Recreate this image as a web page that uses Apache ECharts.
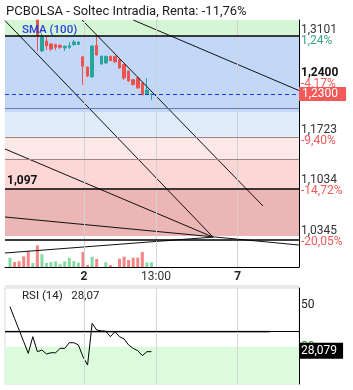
<!DOCTYPE html>
<html><head><meta charset="utf-8">
<script src="https://cdn.jsdelivr.net/npm/echarts@6/dist/echarts.min.js"></script>
<style>html,body{margin:0;padding:0;background:#fff}#c{width:353px;height:390px}</style>
</head><body><div id="c"></div>
<script>
// ---------- data ----------
const barIdx = [0,1,2,3,4,5,6,7,8,9,10,11,12,13,14,15,16,17,18,19,20,21,22,23,24,25,26,27,28,29,30,31];
// first six candles of day 1 lie above the visible price range (not readable)
const opens  = [null,null,null,null,null,null,1.3321,1.2895,1.3032,1.2991,1.2981,1.2973,1.2936,1.2945,1.2981,1.2985,
                1.2812,1.2673,1.2536,1.2970,1.2715,1.2729,1.2821,1.2821,1.2774,1.2706,1.2619,1.2499,1.2522,1.2453,1.2302,1.2295];
const closes = [null,null,null,null,null,null,1.3115,1.3088,1.2963,1.2922,1.2945,1.2945,1.2959,1.2967,1.3018,1.3018,
                1.2688,1.2549,1.2963,1.2839,1.2821,1.2821,1.2761,1.2743,1.2660,1.2522,1.2481,1.2430,1.2385,1.2292,1.2357,1.2300];
const lows   = [null,null,null,null,null,null,1.2895,1.2882,1.2908,1.2895,1.2908,1.2922,1.2895,1.2922,1.2967,1.2975,
                1.2426,1.2535,1.2530,1.2832,1.2705,1.2720,1.2755,1.2735,1.2650,1.2495,1.2470,1.2420,1.2371,1.2285,1.2288,1.2220];
const highs  = [null,null,null,null,null,null,1.3321,1.3143,1.3101,1.3005,1.2995,1.2985,1.2967,1.3018,1.3046,1.3025,
                1.2825,1.2680,1.2970,1.3101,1.2830,1.2828,1.2826,1.2826,1.2780,1.2712,1.2625,1.2505,1.2540,1.2460,1.2522,1.2310];
const volume = [18.6,10,11.4,21.4,31.4,8,43.4,25.4,8,10,11.4,5.4,11.4,18.6,12,8.6,
                30,4,20.6,16,0,9.4,4,0,16.6,20.6,14,18.6,18.6,30,9.4,9.4];
const volUp  = [1,0,0,0,0,1,0,1,1,1,1,1,1,1,1,1, 0,0,1,0,1,1,0,0,0,0,0,0,0,0,1,1];
const rsi    = [49.2,43.5,38.0,32.4,26.8,34.8,27.6,28.4,26.5,27.1,27.1,29.2,29.2,31.9,31.9,30.8,
                25.2,21.2,41.2,38.0,37.6,37.4,34.8,37.2,34.8,33.7,30.8,29.2,28.1,25.7,27.6,27.6];

const tickPos   = [16.2, 32, 49.9];
const tickText  = ['2', '13:00', '7'];
const tickBold  = [true, false, true];

const levelValues = [1.3101, 1.24, 1.1723, 1.1034, 1.0345];
const levelText   = ['1,3101', '1,2400', '1,1723', '1,1034', '1,0345'];
const levelPct    = ['1,24%', '-4,17%', '-9,40%', '-14,72%', '-20,05%'];

const bandEdges = [1.3321, 1.3101, 1.2054, 1.1723, 1.1392, 1.0986, 1.0345];
const supportLevel = 1.0986, supportText = '1,097';
const lastPrice = 1.23, lastText = '1,2300';

const trendLines = [
  [[-1.1, 1.3313], [44.5, 1.033]],
  [[-1.1, 1.1544], [44.5, 1.033]],
  [[-1.1, 1.0607], [63.3, 1.0221]],
  [[-1.1, 1.0111], [44.5, 1.033]],
  [[15.8, 1.3321], [55.45, 1.0758]],
  [[27.0, 1.3321], [63.3, 1.2350]]
];
const rsiLevel = 37.2, rsiLevelEnd = 57;
const rsiOversold = 30, rsiLast = 28.079, rsiLastText = '28,079';
const rsiTicks = [30, 50];

// ---------- styles ----------
const FONT = 'Roboto';
const xMin = -1.096, xMax = 63.34;
const yMin = 0.9918, yMax = 1.3321;
const rsiMin = 12.1, rsiMax = 58.15;
const bandColors = ['rgba(135,229,135,0.35)','rgba(84,144,235,0.35)','rgba(166,201,241,0.35)',
                    'rgba(249,189,189,0.35)','rgba(249,138,138,0.35)','rgba(201,46,46,0.35)'];
const edgeStyles = [
  {color:'#000', width:1.5}, {color:'#6c7fa3', width:1}, {color:'#8b8b98', width:1},
  {color:'#a38484', width:1}, {color:'#000', width:1.5}, {color:'#000', width:1.5}
];

function nearest(arr, v){ let b=0; arr.forEach((a,i)=>{ if(Math.abs(a-v)<Math.abs(arr[b]-v)) b=i; }); return b; }
const m = v => (v === null ? '-' : v);

const chart = echarts.init(document.getElementById('c'));
const series = [];

series.push({
  type:'bar', xAxisIndex:0, yAxisIndex:1, barWidth:3, z:1, silent:true,
  data: barIdx.map((x,i)=>({value:[x, volume[i]], itemStyle:{color: volUp[i] ? '#86dba5' : '#f48686'}})),
  markLine:{silent:true, symbol:['none','none'], label:{show:false},
    lineStyle:{color:'#d2d2d2', width:1, type:'solid'}, data: tickPos.map(v=>({xAxis:v}))}
});
series.push({
  type:'candlestick', xAxisIndex:0, yAxisIndex:0, z:2, barWidth:3, clip:true, silent:true,
  encode:{x:0, y:[1,2,3,4]},
  data: barIdx.map((x,i)=>[x, m(opens[i]), m(closes[i]), m(lows[i]), m(highs[i])]),
  itemStyle:{color:'#26a69a', color0:'#ef5350', borderColor:'#26a69a', borderColor0:'#ef5350', borderWidth:1}
});
series.push({
  type:'line', xAxisIndex:0, yAxisIndex:0, z:3, data:[], silent:true,
  markArea:{silent:true, data: bandColors.map((c,i)=>[{yAxis:bandEdges[i], itemStyle:{color:c}}, {yAxis:bandEdges[i+1]}])},
  markLine:{silent:true, symbol:['none','none'], label:{show:false},
    data: bandEdges.slice(1).map((v,i)=>{
      const d = {yAxis:v, lineStyle:Object.assign({type:'solid'}, edgeStyles[i])};
      if (v === supportLevel) d.label = {show:true, position:'insideStartTop', formatter:supportText,
        fontFamily:FONT, fontSize:12, fontWeight:'bold', color:'#111', distance:[2,1]};
      return d;
    })}
});
trendLines.forEach(l=>series.push({
  type:'line', xAxisIndex:0, yAxisIndex:0, z:4, data:l, showSymbol:false, silent:true, clip:true,
  lineStyle:{color:'#111', width:1}
}));
series.push({
  type:'line', xAxisIndex:0, yAxisIndex:0, z:5, data:[], silent:true,
  markLine:{silent:true, symbol:['none','none'],
    data:[{yAxis:lastPrice, lineStyle:{color:'#2038e8', width:1, type:[4,3]},
      label:{show:true, position:'end', distance:0, formatter:lastText, fontFamily:FONT, fontSize:12,
        color:'#fff', backgroundColor:'#f25959', padding:[1,8,0,3], lineHeight:13}}]}
});
// RSI
series.push({
  type:'line', xAxisIndex:1, yAxisIndex:2, z:2, data:[[-1.1, rsiLevel],[rsiLevelEnd, rsiLevel]],
  showSymbol:false, silent:true, lineStyle:{color:'#8a8a8a', width:2}
});
series.push({
  type:'line', xAxisIndex:1, yAxisIndex:2, z:3, showSymbol:false, silent:true,
  data: barIdx.map((x,i)=>[x, rsi[i]]), lineStyle:{color:'#000', width:1},
  markArea:{silent:true, data:[[{yAxis:rsiMin, itemStyle:{color:'#dcfadc'}},{yAxis:rsiOversold}]]},
  markLine:{silent:true, symbol:['none','none'],
    data: tickPos.map(v=>({xAxis:v, label:{show:false}, lineStyle:{color:'#d6d6d6', width:1, type:'solid'}})).concat([
      {yAxis:rsiLevel, label:{show:false}, lineStyle:{color:'#000', width:1, type:'solid'}}
    ])}
});
series.push({
  type:'line', xAxisIndex:1, yAxisIndex:2, z:6, data:[], silent:true,
  markLine:{silent:true, symbol:['none','none'],
    data:[{yAxis:rsiLast, lineStyle:{color:'rgba(0,0,0,0)', width:1},
       label:{show:true, position:'end', distance:0, formatter:rsiLastText, fontFamily:FONT, fontSize:12,
         color:'#fff', backgroundColor:'#000', padding:[3,6,1,2], lineHeight:12}}]}
});

const option = {
  animation:false,
  backgroundColor:'#fff',
  textStyle:{fontFamily:FONT},
  title:[
    {text:'PCBOLSA - Soltec Intradia, Renta: -11,76%', left:6, top:5, padding:0,
     textStyle:{fontFamily:FONT, fontSize:13, fontWeight:'normal', color:'#1a1a1a'}},
    {text:'SMA (100)', left:22, top:24, padding:0,
     textStyle:{fontFamily:FONT, fontSize:11.5, fontWeight:500, color:'#2a3ce8'}},
    {text:'RSI (14)   28,07', left:22, top:290, padding:0,
     textStyle:{fontFamily:FONT, fontSize:11.5, fontWeight:'normal', color:'#222'}}
  ],
  grid:[
    {left:5, right:54, top:20, height:247},
    {left:5, right:54, top:288, height:96, show:true, borderColor:'#dcdcdc', borderWidth:1},
    {left:5, right:54, top:285, height:3, show:true, backgroundColor:'#e9e9e9', borderWidth:0}
  ],
  xAxis:[
    {gridIndex:0, type:'value', min:xMin, max:xMax,
     axisLine:{show:true, onZero:false, lineStyle:{color:'#000', width:1}}, axisTick:{show:false}, splitLine:{show:false},
     axisLabel:{customValues:tickPos, margin:4, fontFamily:FONT,
       formatter:v=>{const k=nearest(tickPos,v); return tickBold[k] ? '{b|'+tickText[k]+'}' : '{n|'+tickText[k]+'}';},
       rich:{b:{fontSize:12, fontWeight:'bold', color:'#222', fontFamily:FONT}, n:{fontSize:12, color:'#333', fontFamily:FONT}}}},
    {gridIndex:1, type:'value', min:xMin, max:xMax, show:false},
    {gridIndex:2, type:'value', min:0, max:1, show:false}
  ],
  yAxis:[
    {gridIndex:0, type:'value', position:'right', min:yMin, max:yMax, scale:true,
     axisLine:{show:true, onZero:false, lineStyle:{color:'#000', width:1}}, axisTick:{show:false}, splitLine:{show:false},
     axisLabel:{customValues:levelValues, margin:2, fontFamily:FONT,
       formatter:v=>{const k=nearest(levelValues,v);
         const p = (k===1?'{pb|':'{p|')+levelText[k]+'}';
         const q = (levelPct[k][0]==='-'?'{r|':'{g|')+levelPct[k]+'}';
         return p+'\n'+q+(k===1?'\n{s|}':'');},
       rich:{p:{fontSize:12, color:'#333', lineHeight:11, fontFamily:FONT},
             pb:{fontSize:12, color:'#111', fontWeight:'bold', lineHeight:11, fontFamily:FONT},
             g:{fontSize:12, color:'#37a57a', lineHeight:11, fontFamily:FONT},
             r:{fontSize:12, color:'#f25a5a', lineHeight:11, fontFamily:FONT},
             s:{fontSize:12, lineHeight:16}}}},
    {gridIndex:0, type:'value', min:0, max:494, show:false},
    {gridIndex:1, type:'value', position:'right', min:rsiMin, max:rsiMax,
     axisLine:{show:true, onZero:false, lineStyle:{color:'#000', width:1}}, axisTick:{show:false}, splitLine:{show:false},
     axisLabel:{customValues:rsiTicks, margin:2, fontFamily:FONT,
       formatter:v=> v===30 ? '{g|30}' : '{k|50}',
       rich:{g:{fontSize:12, color:'#2a9a2a', fontFamily:FONT}, k:{fontSize:12, color:'#222', fontFamily:FONT}}}},
    {gridIndex:2, type:'value', min:0, max:1, show:false}
  ],
  series: series
};
chart.setOption(option);
</script></body></html>
